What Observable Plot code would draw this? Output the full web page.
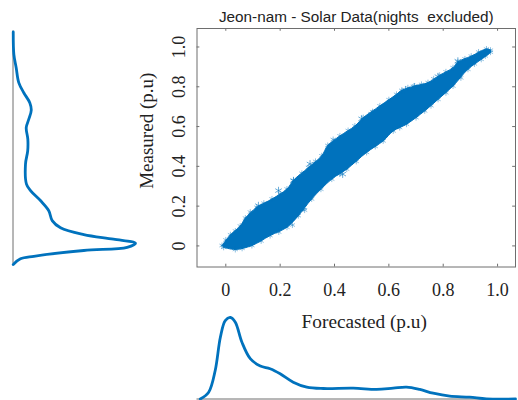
<!DOCTYPE html>
<html>
<head>
<meta charset="utf-8">
<script src="https://cdn.jsdelivr.net/npm/d3@7"></script>
<script src="https://cdn.jsdelivr.net/npm/@observablehq/plot@0.6"></script>
<style>
html,body{margin:0;padding:0;background:#fff;overflow:hidden}
#c{position:relative;width:518px;height:400px}
#c svg{position:absolute;left:0;top:0;background:transparent}
</style>
</head>
<body>
<div id="c"></div>
<script>
const titleText = "Jeon-nam - Solar Data(nights  excluded)";
const xLabel = "Forecasted (p.u)";
const yLabel = "Measured (p.u)";
const tickValues = [0, 0.2, 0.4, 0.6, 0.8, 1.0];
const tickLabels = ["0", "0.2", "0.4", "0.6", "0.8", "1.0"];

// outline of the dense scatter cloud
const upperX = [-0.014,0.017,0.053,0.072,0.114,0.170,0.225,0.249,0.304,0.353,0.375,0.420,0.475,0.506,0.567,0.628,0.647,0.695,0.744,0.787,0.836,0.854,0.903,0.959,0.974];
const upperY = [0.002,0.056,0.100,0.140,0.194,0.236,0.286,0.330,0.394,0.453,0.505,0.553,0.603,0.645,0.704,0.762,0.782,0.804,0.821,0.858,0.896,0.925,0.954,0.990,0.984];
const lowerX = [-0.008,0.035,0.096,0.163,0.225,0.267,0.316,0.390,0.445,0.518,0.579,0.616,0.665,0.732,0.781,0.836,0.891,0.940,0.974];
const lowerY = [-0.007,-0.018,0.002,0.052,0.094,0.152,0.236,0.336,0.386,0.470,0.528,0.578,0.612,0.679,0.737,0.804,0.888,0.938,0.974];
// fine asterisks along the edge of the cloud
const edgeX = [0.0,0.035,0.09,0.14,0.2,0.28,0.33,0.395,0.45,0.54,0.6,0.67,0.72,0.765,0.81,0.88,0.93,0.06,0.13,0.195,0.245,0.29,0.35,0.42,0.48,0.55,0.64,0.70,0.755,0.81,0.865,0.915,0.955];
const edgeY = [0.03,0.075,0.17,0.215,0.262,0.365,0.425,0.535,0.58,0.675,0.735,0.795,0.812,0.84,0.875,0.94,0.975,-0.012,0.025,0.07,0.105,0.18,0.285,0.362,0.425,0.50,0.595,0.645,0.705,0.77,0.845,0.915,0.955];
// scattered asterisks that stick out of the cloud
const outlierX = [0.854,0.693,0.661,0.781,0.430,0.537,0.5,0.39,0.31,0.12,0.194,0.249,0.286];
const outlierY = [0.929,0.80,0.784,0.851,0.361,0.662,0.639,0.503,0.412,0.2025,0.278,0.328,0.194];

// distribution of the measured values (left panel)
const measuredLevel = [1.076,0.963,0.896,0.821,0.770,0.720,0.682,0.637,0.595,0.537,0.478,0.412,0.311,0.278,0.228,0.177,0.127,0.091,0.057,0.034,0.014,-0.007,-0.023,-0.052,-0.065,-0.093];
const measuredDensity = [0.002,0.007,0.026,0.047,0.088,0.137,0.149,0.129,0.108,0.121,0.12,0.102,0.11,0.143,0.224,0.292,0.32,0.388,0.578,0.82,1.0,0.932,0.578,0.17,0.061,0.002];

// distribution of the forecasted values (bottom panel)
const forecastLevel = [-0.094,-0.063,-0.039,-0.020,-0.002,0.017,0.035,0.059,0.090,0.127,0.163,0.2,0.248,0.298,0.359,0.469,0.555,0.616,0.665,0.714,0.763,0.824,0.897,0.959,1.066];
const forecastDensity = [0,0.083,0.350,0.758,0.963,1.0,0.942,0.699,0.495,0.405,0.372,0.310,0.207,0.146,0.129,0.133,0.117,0.133,0.146,0.117,0.071,0.034,0.022,0.002,0];

const blue = "#0072BD";
const grey = "#6e6e6e";
const ink = "#222";
const serif = "'Liberation Serif', serif";
const sans = "'Liberation Sans', sans-serif";
const xDomain = [-0.106, 1.066];
const yDomain = [-0.106, 1.093];
const W = 518, H = 400;
const mainMargins = {marginLeft:196.5, marginRight:3, marginTop:28, marginBottom:133.5};

const outline = [
  ...upperX.map((x,i)=>({x, y:upperY[i]})),
  ...lowerX.map((x,i)=>({x, y:lowerY[i]})).reverse()
];
const fineStars = [...outline, ...edgeX.map((x,i)=>({x, y:edgeY[i]}))];
const bigStars = outlierX.map((x,i)=>({x, y:outlierY[i]}));
const fmt = v => tickLabels[tickValues.indexOf(v)];
const tickLen = 0.014;

const main = Plot.plot({
  width:W, height:H, ...mainMargins,
  style:{background:"transparent"},
  x:{domain:xDomain, label:null},
  y:{domain:yDomain, label:null},
  marks:[
    Plot.line(outline,{x:"x",y:"y",fill:blue,stroke:blue,strokeWidth:1,curve:"catmull-rom"}),
    Plot.dot(fineStars,{x:"x",y:"y",symbol:"asterisk",r:2.8,stroke:blue,strokeWidth:0.6,strokeOpacity:0.75}),
    Plot.dot(bigStars,{x:"x",y:"y",symbol:"asterisk",r:3.6,stroke:blue,strokeWidth:0.7,strokeOpacity:0.85}),
    Plot.ruleX(tickValues,{y1:yDomain[0],y2:yDomain[0]+tickLen,stroke:grey}),
    Plot.ruleX(tickValues,{y1:yDomain[1],y2:yDomain[1]-tickLen,stroke:grey}),
    Plot.ruleY(tickValues,{x1:xDomain[0],x2:xDomain[0]+tickLen*0.75,stroke:grey}),
    Plot.ruleY(tickValues,{x1:xDomain[1],x2:xDomain[1]-tickLen*0.75,stroke:grey}),
    Plot.frame({stroke:grey,strokeOpacity:1}),
    Plot.axisX(tickValues,{anchor:"bottom",tickSize:0,tickPadding:16,tickFormat:fmt,fontSize:18,fontFamily:serif,fill:ink,label:null}),
    Plot.axisY(tickValues,{anchor:"left",tickSize:0,tickPadding:18,tickFormat:fmt,fontSize:18,fontFamily:serif,fill:ink,label:null,rotate:-90,textAnchor:"middle"}),
    Plot.text([titleText],{frameAnchor:"top",dy:-11,fontFamily:sans,fontSize:15.3,fill:ink,lineAnchor:"middle"}),
    Plot.text([xLabel],{frameAnchor:"bottom",dx:8,dy:55,fontFamily:serif,fontSize:19.3,fill:ink,lineAnchor:"middle"}),
    Plot.text([yLabel],{frameAnchor:"left",dx:-50,dy:-17,rotate:-90,fontFamily:serif,fontSize:19,fill:ink,textAnchor:"middle",lineAnchor:"middle"})
  ]
});

const left = Plot.plot({
  width:W, height:H, marginLeft:12.5, marginRight:W-135, marginTop:28, marginBottom:133.5,
  style:{background:"transparent"},
  x:{domain:[0,1], axis:null},
  y:{domain:yDomain, axis:null},
  marks:[
    Plot.ruleX([0],{y1:1.08,y2:-0.09,stroke:grey}),
    Plot.line(measuredLevel.map((y,i)=>({y, v:measuredDensity[i]})),{x:"v",y:"y",stroke:blue,strokeWidth:2.8,curve:"catmull-rom"})
  ]
});

const bottom = Plot.plot({
  width:W, height:H, marginLeft:196.5, marginRight:3, marginTop:317, marginBottom:1.5,
  style:{background:"transparent"},
  x:{domain:xDomain, axis:null},
  y:{domain:[0,1], axis:null},
  marks:[
    Plot.ruleY([0],{stroke:grey}),
    Plot.line(forecastLevel.map((x,i)=>({x, v:forecastDensity[i]})),{x:"x",y:"v",stroke:blue,strokeWidth:2.8,curve:"catmull-rom"})
  ]
});

const c = document.getElementById("c");
c.append(main, left, bottom);
</script>
</body>
</html>
